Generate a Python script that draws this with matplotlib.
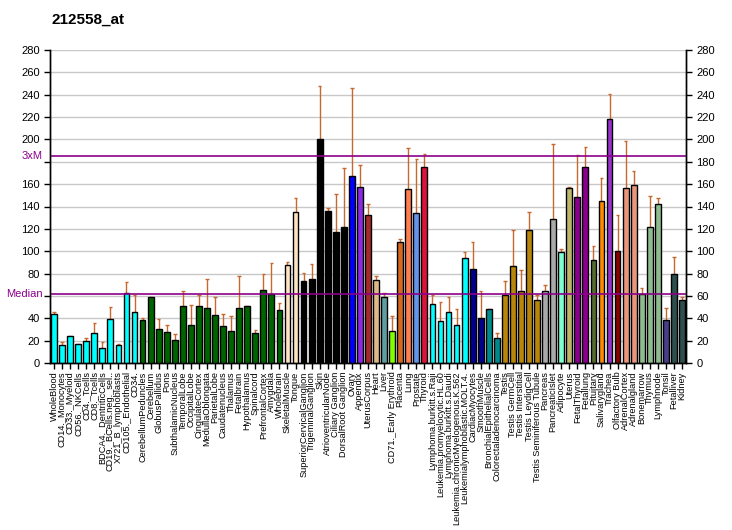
import numpy as np
import matplotlib
matplotlib.use("Agg")
import matplotlib.pyplot as plt

plt.rcParams['font.family'] = ['Liberation Sans', 'DejaVu Sans']

title = "212558_at"

samples = [
    "WholeBlood", "CD14._Monocytes", "CD33._Myeloid", "CD56._NKCells", "CD4._Tcells",
    "CD8._Tcells", "BDCA4._DentriticCells", "CD19._BCells.neg._sel..", "X721_B_lymphoblasts",
    "CD105._Endothelial", "CD34.", "CerebellumPeduncles", "Cerebellum", "GlobusPallidus",
    "Pons", "SubthalamicNucleus", "TemporalLobe", "OccipitalLobe", "CingulateCortex",
    "MedullaOblongata", "ParietalLobe", "Caudatenucleus", "Thalamus", "Fetalbrain",
    "Hypothalamus", "Spinalcord", "PrefrontalCortex", "Amygdala", "Wholebrain",
    "SkeletalMuscle", "Tongue", "SuperiorCervicalGanglion", "TrigeminalGanglion", "Skin",
    "AtrioventricularNode", "Ciliary Ganglion", "DorsalRoot Ganglion", "Ovary", "Appendix",
    "UterusCorpus", "Heart", "Liver", "CD71._Early Erythroid", "Placenta", "Lung",
    "Prostate", "Thyroid", "Lymphoma.burkitt.s.Raji", "Leukemia.promyelocytic.HL.60",
    "Lymphoma.burkitt.s.Daudi", "Leukemia.chronicMyelogenous.K.562",
    "Leukemialymphoblastic.MOLT.4.", "CardiacMyocytes", "SmoothMuscle",
    "BronchialEpithelialCells", "Colorectaladenocarcinoma", "Testis", "Testis GermCell",
    "Testis Interstitial", "Testis LeydigCell", "Testis Seminiferous Tubule", "Pancreas",
    "PancreaticIslet", "Adipocyte", "Uterus", "FetalThyroid", "Fetallung", "Pituitary",
    "Salivarygland", "Trachea", "Olfactory Bulb", "AdrenalCortex", "Adrenalgland",
    "Bonemarrow", "Thymus", "Lymphnode", "Tonsil", "Fetalliver", "Kidney",
]

values = [
    43.4, 16.5, 24.5, 17.3, 20.0, 27.2, 13.8, 39.8, 16.5, 62.2, 45.2,
    38.9, 58.6, 30.8, 28.1, 20.9, 51.4, 34.4, 50.6, 48.8, 42.5, 33.5, 29.0, 48.8,
    50.6, 27.2, 64.9, 61.3, 47.0,
    87.3, 134.9, 73.3, 75.1, 200.7, 136.1, 117.3, 121.7, 167.5, 157.3, 132.5,
    74.2, 58.9, 29.0, 108.3, 155.5, 134.3, 175.6,
    53.2, 38.0, 45.2, 34.4, 93.6, 83.8, 40.7, 47.9, 22.7,
    61.0, 86.4, 64.0, 118.8, 56.0, 64.0, 128.6, 99.0, 156.4, 148.4, 175.3,
    91.8, 144.8, 218.4, 99.9, 156.4, 159.1, 61.3, 121.4, 142.1, 38.9, 79.9, 56.8,
]

err_top = [
    45.2, 18.8, 24.5, 17.3, 22.7, 36.2, 18.8, 49.7, 17.3, 72.1, 60.7,
    40.7, 59.2, 39.8, 34.4, 26.3, 64.0, 52.3, 60.4, 74.8, 58.6, 43.4, 41.6, 77.5,
    51.4, 29.9, 79.9, 89.1, 54.1,
    90.0, 147.5, 80.2, 88.2, 248.0, 138.5, 151.0, 174.4, 246.2, 177.1, 142.1,
    77.5, 62.2, 41.6, 110.7, 192.3, 182.5, 187.0,
    60.4, 55.0, 58.6, 47.9, 99.0, 108.0, 64.0, 47.9, 27.2,
    73.0, 119.0, 83.2, 134.9, 60.7, 69.4, 196.0, 101.7, 157.3, 186.0, 193.2,
    104.4, 165.4, 240.8, 132.2, 198.6, 171.7, 66.7, 149.3, 147.5, 48.8, 94.5, 58.6,
]

median_val = 61.6
three_xm = 184.9

colors = (
    ["#00FFFF"] * 11 + ["#006400"] * 18 + ["#FFE4C4"] * 2 + ["#000000"] * 6 +
    ["#0000FF", "#8A2BE2", "#A52A2A", "#DEB887", "#5F9EA0", "#7FFF00", "#D2691E",
     "#FF7F50", "#6495ED", "#DC143C"] +
    ["#00FFFF"] * 5 + ["#00008B"] * 2 + ["#008B8B"] * 2 + ["#B8860B"] * 5 +
    ["#A9A9A9"] * 2 + ["#7FFFD4", "#BDB76B", "#8B008B", "#8B008B", "#556B2F",
                       "#FF8C00", "#9932CC", "#8B0000", "#E9967A", "#E9967A"] +
    ["#8FBC8F"] * 3 + ["#483D8B"] + ["#2F4F4F"] * 2
)

x = np.arange(len(samples))
vals = np.array(values)
tops = np.array(err_top)

fig = plt.figure(figsize=(7.32, 5.30), dpi=100)
ax = fig.add_axes([50 / 732, 1 - 363 / 530, 636 / 732, 313 / 530])

# grid
for yv in range(20, 281, 20):
    ax.axhline(yv, color="#C8C8C8", lw=1, zorder=0)

# upper error bars only
ax.vlines(x, vals, tops, color="#C8682E", lw=1, zorder=2)
ax.hlines(tops, x - 0.22, x + 0.22, color="#C8682E", lw=1, zorder=2)
ax.bar(x, vals, width=0.72, color=colors, edgecolor="black", linewidth=1, zorder=3)

ax.axhline(three_xm, color="#8B008B", lw=1.2, zorder=4)
ax.axhline(median_val, color="#8B008B", lw=1.2, zorder=4)

ax.set_xlim(-0.5, len(samples) - 0.5)
ax.set_ylim(0, 280)

yt = np.arange(0, 281, 20)
ax.set_yticks(yt)
ax.set_yticklabels(["" if v in (60, 180) else str(v) for v in yt], fontsize=8)
ax.tick_params(axis="y", direction="out", length=4, width=1)

ax2 = ax.twinx()
ax2.set_ylim(0, 280)
ax2.set_yticks(yt)
ax2.set_yticklabels([str(v) for v in yt], fontsize=8)
ax2.tick_params(axis="y", direction="out", length=4, width=1)

ax.text(-0.012, three_xm, "3xM", color="#8B008B", fontsize=8, ha="right", va="center",
        transform=ax.get_yaxis_transform())
ax.text(-0.012, median_val, "Median", color="#8B008B", fontsize=8, ha="right", va="center",
        transform=ax.get_yaxis_transform())

ax.set_xticks(x)
ax.set_xticklabels(samples, rotation=90, fontsize=6.6)
ax.tick_params(axis="x", direction="out", length=4, width=1, pad=2)

for a in (ax, ax2):
    a.spines["top"].set_visible(False)
    for s in ("left", "right", "bottom"):
        a.spines[s].set_linewidth(1)

fig.text(52 / 732, 1 - 20 / 530, title, fontsize=11, fontweight="bold", ha="left", va="center")

fig.savefig("out.png", dpi=100)
